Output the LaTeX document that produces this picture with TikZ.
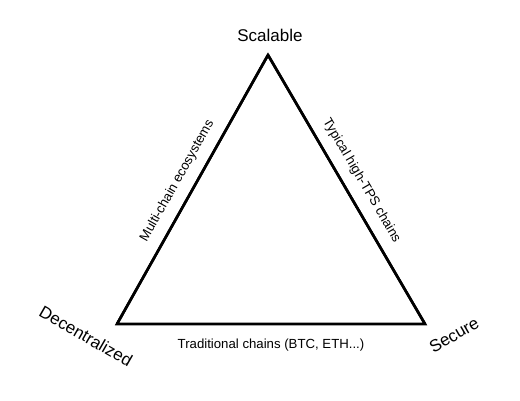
\documentclass[tikz,border=0pt]{standalone}
\usepackage{fontspec}
\setmainfont{Liberation Sans}
\usetikzlibrary{positioning}
\tikzset{
  corner/.style={font=\fontsize{17}{20}\selectfont, text=black, inner sep=0pt},
  side/.style={font=\fontsize{13.2}{16}\selectfont, text=black, sloped, inner sep=0pt},
  edge/.style={draw=black, line width=2.6pt, line join=miter}
}
\begin{document}
\begin{tikzpicture}[x=1pt, y=-1pt]
  \useasboundingbox[fill=white] (0,0) rectangle (520,400);
  % corners of the triangle
  \coordinate (scal) at (268,55);
  \coordinate (dec)  at (117,324);
  \coordinate (sec)  at (425,324);
  % corner labels
  \node[corner] (scallbl) at (270,35) {Scalable};
  \node[corner, rotate=-30] (declbl) at (86,336) {Decentralized};
  \node[corner, rotate=30] (seclbl) at (454,335) {Secure};
  % triangle with side labels
  \draw[edge] (dec) -- (scal)
      node[midway, side, above=10pt] (multi) {Multi-chain ecosystems};
  \draw[edge] (scal) -- (sec)
      node[midway, side, above=10pt] (tps) {Typical high-TPS chains};
  \draw[edge] (dec) -- (sec)
      node[midway, side, below=21pt, anchor=center] (trad) {Traditional chains (BTC, ETH...)};
  \draw[edge] (dec) -- (scal) -- (sec) -- cycle;
\end{tikzpicture}
\end{document}
